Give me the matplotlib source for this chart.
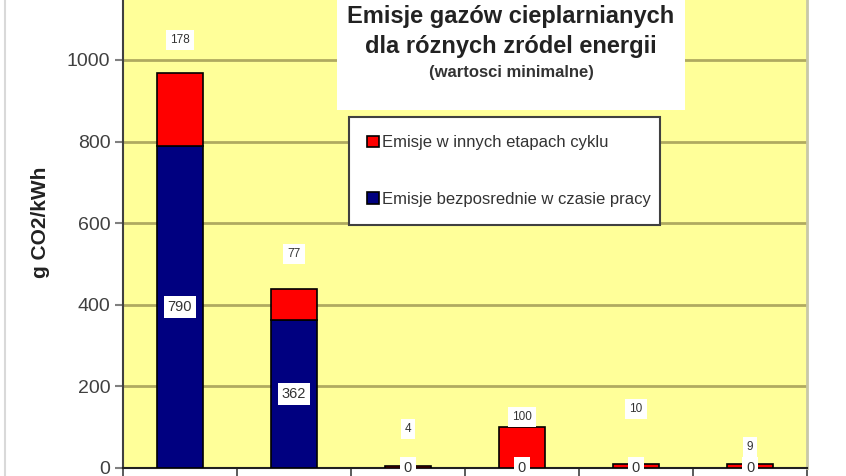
import numpy as np
import matplotlib.pyplot as plt
from matplotlib.patches import Rectangle
from matplotlib.lines import Line2D

plt.rcParams['font.family'] = ['Liberation Sans', 'DejaVu Sans']

# g CO2/kWh, minimal values per energy source (category names are cut off in the picture)
direct = [790, 362, 0, 0, 0, 0]
other = [178, 77, 4, 100, 10, 9]
series_names = ["Emisje w innych etapach cyklu", "Emisje bezposrednie w czasie pracy"]
yticks = [0, 200, 400, 600, 800, 1000]

# red value labels were dragged above the stacks by hand (data units)
label_lift = [81, 86, 92, 25, 135, 42]

W, H = 846, 476
fig = plt.figure(figsize=(W / 100, H / 100), dpi=100)
ax = fig.add_axes([123 / W, 8 / H, (807 - 123) / W, 1 - 8 / H])
ax.set_facecolor('#ffff99')

x = np.arange(len(direct))
ax.bar(x, direct, 0.4, color='#000080', edgecolor='black', linewidth=1.2,
       label=series_names[1], zorder=3)
ax.bar(x, other, 0.4, bottom=direct, color='#ff0000', edgecolor='black',
       linewidth=1.2, label=series_names[0], zorder=3)

ax.set_xlim(-0.5, len(x) - 0.5)
ax.set_ylim(0, 1147)
ax.set_yticks(yticks)
ax.set_xticks(np.arange(len(x) + 1) - 0.5)
ax.set_xticklabels([])

ax.yaxis.grid(True, color='#b0aa60', lw=2)
ax.set_axisbelow(True)
ax.tick_params(axis='y', labelsize=14, labelcolor='#404040', color='#808080',
               length=6, width=1.5, pad=3)
ax.tick_params(axis='x', length=6, width=1.2, color='#404040')
ax.spines['top'].set_visible(False)
ax.spines['right'].set_color('#c8c8a8')
ax.spines['right'].set_linewidth(2)
ax.spines['left'].set_color('#404040')
ax.spines['left'].set_linewidth(1.5)
ax.spines['bottom'].set_color('#202020')
ax.spines['bottom'].set_linewidth(1.5)

# value labels
for i in range(len(x)):
    top = direct[i] + other[i]
    ax.text(x[i], top + label_lift[i], str(other[i]), ha='center', va='center',
            fontsize=8.5, color='#333333', zorder=5,
            bbox=dict(fc='white', ec='none', pad=3))
    ax.text(x[i], direct[i] / 2, str(direct[i]), ha='center', va='center',
            fontsize=10.5, color='#333333', zorder=5,
            bbox=dict(fc='white', ec='none', pad=3))

# legend, red entry first
h, l = ax.get_legend_handles_labels()
leg = ax.legend(h[::-1], l[::-1], loc='upper left',
                bbox_to_anchor=(349 / W, 1 - 224 / H, 311 / W, 107 / H),
                bbox_transform=fig.transFigure, mode='expand',
                fontsize=12, frameon=True, fancybox=False, framealpha=1,
                edgecolor='#404040', handlelength=0.7, handleheight=0.7,
                handletextpad=0.2, labelspacing=2.5, borderpad=1.1,
                borderaxespad=0)
leg.get_frame().set_linewidth(1.5)
for t in leg.get_texts():
    t.set_color('#333333')

# title in its white box
fig.add_artist(Rectangle((337 / W, 1 - 110 / H), (685 - 337) / W, 110 / H + 0.01,
                         transform=fig.transFigure, facecolor='white',
                         edgecolor='none', zorder=1))
fig.text(511 / W, 1 - 16 / H, "Emisje gazów cieplarnianych", ha='center',
         va='center', fontsize=17, fontweight='bold', color='#222222', zorder=2)
fig.text(511 / W, 1 - 46 / H, "dla róznych zródel energii", ha='center',
         va='center', fontsize=17, fontweight='bold', color='#222222', zorder=2)
fig.text(511 / W, 1 - 72 / H, "(wartosci minimalne)", ha='center',
         va='center', fontsize=12, fontweight='bold', color='#333333', zorder=2)

fig.text(41 / W, 1 - 222 / H, "g CO2/kWh", rotation=90, ha='center',
         va='center', fontsize=15, fontweight='bold', color='#222222')

# chart area border on the left
fig.add_artist(Line2D([5 / W, 5 / W], [0, 1], color='#d9d9d9', lw=1.5))

fig.savefig('out.png', dpi=100)
